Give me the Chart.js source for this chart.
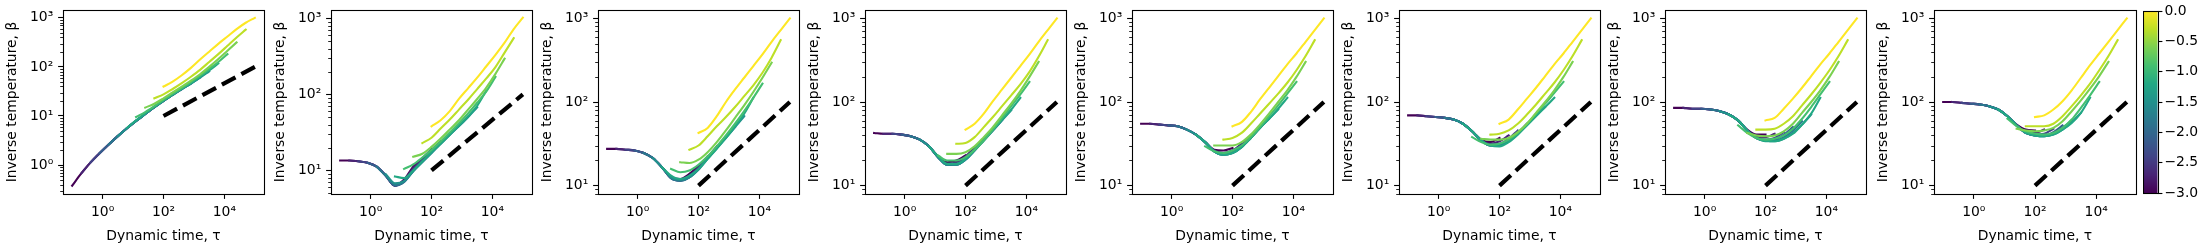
<!DOCTYPE html>
<html>
<head>
<meta charset="utf-8">
<script src="https://cdn.jsdelivr.net/npm/chart.js@4/dist/chart.umd.min.js"></script>
<style>
  html, body { margin: 0; padding: 0; background: #fff; }
  #fig { position: relative; width: 2200px; height: 250px; overflow: hidden; }
  #fig canvas { position: absolute; top: 0; }
</style>
</head>
<body>
<div id="fig"></div>
<script>
// log10 of dynamic time on a 0.3-decade grid; curve k spans TAU_EXP[k .. k+10]
const TAU_EXP = [-1.0, -0.7, -0.4, -0.1, 0.2, 0.5, 0.8, 1.1, 1.4, 1.7, 2.0, 2.3, 2.6, 2.9, 3.2, 3.5, 3.8, 4.1, 4.4, 4.7, 5.0];
// colour value of each curve (colorbar, -3 .. 0)
const CURVE_C = [-3.0, -2.7, -2.4, -2.1, -1.8, -1.5, -1.2, -0.9, -0.6, -0.3, 0.0];

// log10(beta), one row per curve
const LOG_BETA_1 = [
  [-0.42, -0.17, 0.05, 0.24, 0.42, 0.59, 0.75, 0.90, 1.04, 1.18, 1.32],
  [-0.17, 0.05, 0.24, 0.42, 0.59, 0.75, 0.90, 1.04, 1.18, 1.31, 1.44],
  [0.05, 0.24, 0.42, 0.59, 0.75, 0.90, 1.04, 1.18, 1.31, 1.43, 1.55],
  [0.24, 0.42, 0.59, 0.75, 0.90, 1.04, 1.18, 1.31, 1.43, 1.55, 1.66],
  [0.42, 0.59, 0.75, 0.90, 1.04, 1.18, 1.31, 1.43, 1.55, 1.66, 1.78],
  [0.59, 0.75, 0.90, 1.04, 1.18, 1.31, 1.43, 1.55, 1.66, 1.78, 1.91],
  [0.76, 0.91, 1.05, 1.19, 1.32, 1.44, 1.56, 1.67, 1.80, 1.93, 2.07],
  [0.98, 1.08, 1.20, 1.33, 1.45, 1.57, 1.69, 1.82, 1.96, 2.10, 2.26],
  [1.17, 1.25, 1.36, 1.48, 1.60, 1.72, 1.85, 2.00, 2.16, 2.33, 2.50],
  [1.36, 1.44, 1.55, 1.67, 1.80, 1.94, 2.10, 2.26, 2.43, 2.60, 2.76],
  [1.60, 1.70, 1.83, 1.98, 2.15, 2.31, 2.47, 2.62, 2.77, 2.90, 3.00]
];
const LOG_BETA_2 = [
  [1.13, 1.13, 1.12, 1.10, 1.05, 0.93, 0.80, 0.88, 1.05, 1.16, 1.28],
  [1.13, 1.12, 1.10, 1.05, 0.93, 0.80, 0.87, 1.03, 1.15, 1.27, 1.38],
  [1.12, 1.10, 1.05, 0.93, 0.80, 0.86, 1.01, 1.13, 1.25, 1.37, 1.49],
  [1.10, 1.05, 0.93, 0.80, 0.85, 1.00, 1.12, 1.24, 1.36, 1.48, 1.59],
  [1.05, 0.93, 0.81, 0.85, 0.99, 1.11, 1.23, 1.35, 1.47, 1.59, 1.71],
  [0.95, 0.83, 0.86, 0.99, 1.11, 1.23, 1.35, 1.47, 1.58, 1.70, 1.83],
  [0.92, 0.90, 1.00, 1.12, 1.24, 1.35, 1.47, 1.59, 1.71, 1.85, 2.05],
  [1.02, 1.08, 1.17, 1.27, 1.38, 1.50, 1.62, 1.75, 1.89, 2.04, 2.23],
  [1.18, 1.22, 1.31, 1.42, 1.54, 1.66, 1.80, 1.94, 2.09, 2.27, 2.47],
  [1.36, 1.43, 1.55, 1.67, 1.80, 1.93, 2.07, 2.21, 2.36, 2.55, 2.74],
  [1.58, 1.66, 1.78, 1.94, 2.08, 2.22, 2.37, 2.52, 2.68, 2.86, 3.01]
];
const LOG_BETA_3 = [
  [1.44, 1.44, 1.43, 1.42, 1.39, 1.33, 1.22, 1.10, 1.08, 1.14, 1.24],
  [1.44, 1.43, 1.42, 1.39, 1.33, 1.22, 1.09, 1.07, 1.12, 1.22, 1.35],
  [1.43, 1.42, 1.39, 1.33, 1.22, 1.09, 1.06, 1.11, 1.21, 1.34, 1.47],
  [1.42, 1.39, 1.33, 1.22, 1.09, 1.06, 1.10, 1.20, 1.33, 1.46, 1.58],
  [1.39, 1.33, 1.22, 1.09, 1.06, 1.10, 1.20, 1.33, 1.45, 1.58, 1.70],
  [1.33, 1.22, 1.10, 1.07, 1.10, 1.19, 1.32, 1.45, 1.57, 1.70, 1.83],
  [1.22, 1.12, 1.08, 1.12, 1.20, 1.32, 1.44, 1.57, 1.71, 1.86, 2.05],
  [1.20, 1.16, 1.18, 1.25, 1.35, 1.47, 1.60, 1.74, 1.89, 2.05, 2.22],
  [1.28, 1.27, 1.31, 1.40, 1.52, 1.66, 1.81, 1.96, 2.12, 2.29, 2.47],
  [1.43, 1.48, 1.59, 1.71, 1.82, 1.94, 2.07, 2.20, 2.35, 2.53, 2.74],
  [1.63, 1.69, 1.83, 2.00, 2.15, 2.29, 2.43, 2.57, 2.72, 2.86, 3.00]
];
const LOG_BETA_4 = [
  [1.63, 1.62, 1.62, 1.61, 1.59, 1.55, 1.47, 1.35, 1.28, 1.30, 1.36],
  [1.62, 1.62, 1.61, 1.59, 1.55, 1.47, 1.34, 1.26, 1.28, 1.35, 1.46],
  [1.62, 1.61, 1.59, 1.55, 1.47, 1.34, 1.25, 1.26, 1.33, 1.44, 1.56],
  [1.61, 1.59, 1.55, 1.47, 1.34, 1.25, 1.25, 1.32, 1.43, 1.55, 1.67],
  [1.59, 1.55, 1.47, 1.34, 1.25, 1.25, 1.31, 1.42, 1.54, 1.66, 1.78],
  [1.55, 1.47, 1.34, 1.25, 1.25, 1.31, 1.42, 1.54, 1.66, 1.78, 1.90],
  [1.47, 1.35, 1.26, 1.26, 1.32, 1.43, 1.55, 1.67, 1.79, 1.91, 2.05],
  [1.36, 1.30, 1.30, 1.34, 1.43, 1.54, 1.67, 1.81, 1.95, 2.09, 2.24],
  [1.38, 1.38, 1.40, 1.47, 1.58, 1.70, 1.84, 1.98, 2.13, 2.30, 2.48],
  [1.50, 1.51, 1.58, 1.70, 1.82, 1.95, 2.08, 2.21, 2.36, 2.54, 2.74],
  [1.67, 1.74, 1.86, 2.01, 2.15, 2.29, 2.43, 2.57, 2.72, 2.86, 3.00]
];
const LOG_BETA_5 = [
  [1.74, 1.74, 1.73, 1.72, 1.71, 1.67, 1.61, 1.52, 1.43, 1.42, 1.45],
  [1.74, 1.73, 1.72, 1.71, 1.67, 1.61, 1.52, 1.42, 1.39, 1.42, 1.50],
  [1.73, 1.72, 1.71, 1.67, 1.61, 1.52, 1.41, 1.38, 1.41, 1.49, 1.60],
  [1.72, 1.71, 1.67, 1.61, 1.52, 1.41, 1.37, 1.40, 1.47, 1.58, 1.70],
  [1.71, 1.67, 1.61, 1.52, 1.41, 1.37, 1.39, 1.46, 1.57, 1.69, 1.80],
  [1.67, 1.61, 1.52, 1.41, 1.37, 1.39, 1.46, 1.57, 1.69, 1.80, 1.91],
  [1.61, 1.52, 1.41, 1.37, 1.39, 1.46, 1.57, 1.69, 1.80, 1.92, 2.05],
  [1.47, 1.41, 1.39, 1.42, 1.48, 1.58, 1.70, 1.83, 1.96, 2.10, 2.24],
  [1.48, 1.48, 1.48, 1.52, 1.61, 1.73, 1.86, 2.00, 2.14, 2.30, 2.48],
  [1.55, 1.57, 1.63, 1.74, 1.86, 1.98, 2.10, 2.23, 2.38, 2.55, 2.74],
  [1.71, 1.76, 1.88, 2.03, 2.17, 2.31, 2.45, 2.58, 2.72, 2.86, 3.00]
];
const LOG_BETA_6 = [
  [1.84, 1.84, 1.83, 1.82, 1.81, 1.79, 1.74, 1.65, 1.55, 1.52, 1.57],
  [1.84, 1.83, 1.82, 1.81, 1.79, 1.74, 1.65, 1.54, 1.50, 1.53, 1.60],
  [1.83, 1.82, 1.81, 1.79, 1.74, 1.65, 1.54, 1.49, 1.50, 1.56, 1.66],
  [1.82, 1.81, 1.79, 1.74, 1.65, 1.54, 1.48, 1.49, 1.54, 1.63, 1.74],
  [1.81, 1.79, 1.74, 1.65, 1.54, 1.48, 1.48, 1.53, 1.62, 1.73, 1.84],
  [1.79, 1.74, 1.65, 1.54, 1.48, 1.48, 1.53, 1.62, 1.73, 1.84, 1.94],
  [1.74, 1.65, 1.54, 1.48, 1.47, 1.52, 1.61, 1.72, 1.83, 1.94, 2.05],
  [1.58, 1.52, 1.49, 1.50, 1.55, 1.63, 1.74, 1.86, 1.98, 2.11, 2.24],
  [1.56, 1.55, 1.55, 1.57, 1.64, 1.74, 1.87, 2.00, 2.14, 2.30, 2.48],
  [1.61, 1.62, 1.66, 1.74, 1.85, 1.97, 2.10, 2.23, 2.38, 2.55, 2.74],
  [1.74, 1.79, 1.91, 2.04, 2.17, 2.31, 2.45, 2.58, 2.72, 2.86, 3.00]
];
const LOG_BETA_7 = [
  [1.93, 1.93, 1.92, 1.92, 1.91, 1.89, 1.85, 1.78, 1.67, 1.61, 1.61],
  [1.93, 1.92, 1.92, 1.91, 1.89, 1.85, 1.78, 1.66, 1.58, 1.58, 1.62],
  [1.92, 1.92, 1.91, 1.89, 1.85, 1.78, 1.66, 1.57, 1.55, 1.57, 1.64],
  [1.92, 1.91, 1.89, 1.85, 1.78, 1.66, 1.57, 1.54, 1.55, 1.61, 1.70],
  [1.91, 1.89, 1.85, 1.78, 1.66, 1.57, 1.54, 1.54, 1.58, 1.66, 1.77],
  [1.89, 1.85, 1.78, 1.66, 1.57, 1.54, 1.53, 1.56, 1.63, 1.73, 1.85],
  [1.85, 1.78, 1.66, 1.57, 1.53, 1.53, 1.56, 1.62, 1.73, 1.86, 2.05],
  [1.72, 1.63, 1.57, 1.55, 1.56, 1.60, 1.68, 1.80, 1.94, 2.09, 2.24],
  [1.63, 1.60, 1.59, 1.60, 1.65, 1.74, 1.87, 2.00, 2.14, 2.30, 2.48],
  [1.67, 1.67, 1.68, 1.74, 1.83, 1.96, 2.09, 2.23, 2.38, 2.55, 2.74],
  [1.78, 1.81, 1.92, 2.04, 2.17, 2.31, 2.45, 2.58, 2.72, 2.86, 3.00]
];
const LOG_BETA_8 = [
  [2.00, 2.00, 1.99, 1.98, 1.97, 1.95, 1.91, 1.83, 1.73, 1.67, 1.66],
  [2.00, 1.99, 1.98, 1.97, 1.95, 1.91, 1.83, 1.72, 1.64, 1.63, 1.67],
  [1.99, 1.98, 1.97, 1.95, 1.91, 1.83, 1.72, 1.63, 1.61, 1.62, 1.68],
  [1.98, 1.97, 1.95, 1.91, 1.83, 1.72, 1.63, 1.60, 1.60, 1.64, 1.72],
  [1.97, 1.95, 1.91, 1.83, 1.72, 1.63, 1.60, 1.59, 1.62, 1.69, 1.78],
  [1.95, 1.91, 1.83, 1.72, 1.63, 1.60, 1.59, 1.61, 1.67, 1.76, 1.87],
  [1.91, 1.83, 1.72, 1.63, 1.60, 1.59, 1.61, 1.67, 1.75, 1.87, 2.05],
  [1.80, 1.71, 1.65, 1.62, 1.61, 1.63, 1.69, 1.79, 1.93, 2.08, 2.24],
  [1.68, 1.66, 1.65, 1.66, 1.69, 1.77, 1.89, 2.02, 2.16, 2.31, 2.48],
  [1.71, 1.71, 1.71, 1.74, 1.83, 1.95, 2.08, 2.22, 2.38, 2.55, 2.74],
  [1.82, 1.84, 1.91, 2.01, 2.14, 2.29, 2.44, 2.58, 2.72, 2.86, 3.00]
];
const PANELS = [LOG_BETA_1, LOG_BETA_2, LOG_BETA_3, LOG_BETA_4, LOG_BETA_5, LOG_BETA_6, LOG_BETA_7, LOG_BETA_8];

// dashed guide line, beta ~ tau^(1/3)
const REF_TAU = [100, 100000];
const REF_BETA = [10, 100];

// axis ranges (log10) and tick labels
const X_RANGE = [-1.3, 5.3];
const X_TICKS = [1, 100, 10000];
const Y_RANGES = [[-0.59, 3.16], [0.69, 3.11], [0.9, 3.1], [0.9, 3.1], [0.9, 3.1], [0.9, 3.1], [0.9, 3.1], [0.9, 3.1]];
const Y_TICKS_FIRST = [1, 10, 100, 1000];
const Y_TICKS = [10, 100, 1000];
const CBAR_TICKS = [-3.0, -2.5, -2.0, -1.5, -1.0, -0.5, 0.0];

const VIRIDIS = ['#440154', '#482475', '#414487', '#355f8d', '#2a788e', '#21918c',
                 '#22a884', '#44bf70', '#7ad151', '#bddf26', '#fde725'];

// layout (chart-area left edge / width of each panel, px)
const PANEL_LEFT = [63, 331, 597.5, 864.5, 1131.5, 1398.5, 1664.5, 1933.5];
const PANEL_W = [201, 201, 201, 201, 201, 201, 201, 202];
const AXIS_W = 63;

Chart.defaults.font.family = "'DejaVu Sans', sans-serif";
Chart.defaults.font.size = 13.9;
Chart.defaults.color = '#000';

const SUP = { '-': '⁻', '0': '⁰', '1': '¹', '2': '²', '3': '³', '4': '⁴', '5': '⁵', '6': '⁶', '7': '⁷', '8': '⁸', '9': '⁹' };
const powLabel = v => '10' + String(Math.round(Math.log10(v))).split('').map(c => SUP[c]).join('');
const viridis = c => VIRIDIS[Math.round((c + 3) / 3 * 10)];

function minorTicks(lo, hi) {
  const out = [];
  for (let d = Math.floor(Math.log10(lo)); d <= Math.ceil(Math.log10(hi)); d++) {
    for (let m = 2; m <= 9; m++) {
      const v = m * Math.pow(10, d);
      if (v >= lo && v <= hi) out.push(v);
    }
  }
  return out;
}

const axesFrame = {
  id: 'axesFrame',
  afterDraw(chart) {
    const { ctx, chartArea: a } = chart;
    const ys = chart.scales.y;
    ctx.save();
    ctx.strokeStyle = '#000';
    if (ys.type === 'logarithmic') {
      ctx.lineWidth = 0.85;
      minorTicks(ys.min, ys.max).forEach(v => {
        const py = Math.round(ys.getPixelForValue(v)) + 0.5;
        ctx.beginPath();
        ctx.moveTo(a.left - 2.8, py);
        ctx.lineTo(a.left, py);
        ctx.stroke();
      });
    }
    ctx.lineWidth = 1.1;
    ctx.strokeRect(Math.round(a.left) + 0.5, Math.round(a.top) + 0.5,
                   Math.round(a.right - a.left), Math.round(a.bottom - a.top));
    ctx.restore();
  }
};

const fig = document.getElementById('fig');

function makePanel(i) {
  const rows = PANELS[i];
  const cv = document.createElement('canvas');
  cv.width = AXIS_W + PANEL_W[i] + 3;
  cv.height = 250;
  cv.style.left = (PANEL_LEFT[i] - AXIS_W) + 'px';
  fig.appendChild(cv);

  const datasets = rows.map((row, k) => ({
    data: row.map((lb, j) => ({ x: Math.pow(10, TAU_EXP[k + j]), y: Math.pow(10, lb) })),
    borderColor: viridis(CURVE_C[k]),
    borderWidth: 2.1,
    borderCapStyle: 'square',
    pointRadius: 0,
    fill: false,
    cubicInterpolationMode: 'monotone',
    order: rows.length - k
  }));
  datasets.push({
    data: REF_TAU.map((t, j) => ({ x: t, y: REF_BETA[j] })),
    borderColor: '#000',
    borderWidth: 4.2,
    borderDash: [15.4, 6.7],
    borderCapStyle: 'butt',
    pointRadius: 0,
    fill: false,
    order: 0
  });

  const yr = Y_RANGES[i];
  const yTicks = i === 0 ? Y_TICKS_FIRST : Y_TICKS;
  const tickGrid = { drawOnChartArea: false, tickLength: 4.9, tickWidth: 1.1, tickColor: '#000' };

  new Chart(cv, {
    type: 'line',
    data: { datasets },
    options: {
      responsive: false, animation: false, devicePixelRatio: 1,
      layout: { padding: { left: 0, right: 3, top: 10, bottom: 0 } },
      plugins: { legend: { display: false }, tooltip: { enabled: false } },
      scales: {
        x: {
          type: 'logarithmic',
          min: Math.pow(10, X_RANGE[0]), max: Math.pow(10, X_RANGE[1]),
          border: { display: false },
          grid: tickGrid,
          ticks: { padding: 4.9, maxRotation: 0, autoSkip: false, callback: v => powLabel(v) },
          title: { display: true, text: 'Dynamic time, τ', padding: { top: 0, bottom: 4.9 } },
          afterBuildTicks: s => { s.ticks = X_TICKS.map(v => ({ value: v })); },
          afterFit: s => { s.height = 56; s.paddingLeft = 0; s.paddingRight = 0; }
        },
        y: {
          type: 'logarithmic',
          min: Math.pow(10, yr[0]), max: Math.pow(10, yr[1]),
          border: { display: false },
          grid: tickGrid,
          ticks: { padding: 4.9, autoSkip: false, callback: v => powLabel(v) },
          title: { display: true, text: 'Inverse temperature, β', padding: { top: 4, bottom: 0 } },
          afterBuildTicks: s => { s.ticks = yTicks.map(v => ({ value: v })); },
          afterFit: s => { s.width = AXIS_W; s.paddingTop = 0; s.paddingBottom = 0; }
        }
      }
    },
    plugins: [axesFrame]
  });
}

for (let i = 0; i < PANELS.length; i++) makePanel(i);

// colorbar
const cbGradient = {
  id: 'cbGradient',
  beforeDatasetsDraw(chart) {
    const { ctx, chartArea: a } = chart;
    const g = ctx.createLinearGradient(0, a.bottom, 0, a.top);
    VIRIDIS.forEach((c, j) => g.addColorStop(j / (VIRIDIS.length - 1), c));
    ctx.save();
    ctx.fillStyle = g;
    ctx.fillRect(a.left, a.top, a.right - a.left, a.bottom - a.top);
    ctx.restore();
  }
};

(function makeColorbar() {
  const cv = document.createElement('canvas');
  cv.width = 60;
  cv.height = 250;
  cv.style.left = '2143px';
  fig.appendChild(cv);
  new Chart(cv, {
    type: 'line',
    data: { datasets: [] },
    options: {
      responsive: false, animation: false, devicePixelRatio: 1,
      layout: { padding: { left: 0, right: 0, top: 11, bottom: 57 } },
      plugins: { legend: { display: false }, tooltip: { enabled: false } },
      scales: {
        x: { display: false },
        y: {
          type: 'linear', position: 'right', min: -3, max: 0,
          border: { display: false },
          grid: { drawOnChartArea: false, tickLength: 4.9, tickWidth: 1.1, tickColor: '#000' },
          ticks: { padding: 2, autoSkip: false, callback: v => v.toFixed(1).replace('-', '−') },
          afterBuildTicks: s => { s.ticks = CBAR_TICKS.map(v => ({ value: v })); },
          afterFit: s => { s.width = 45.5; s.paddingTop = 0; s.paddingBottom = 0; }
        }
      }
    },
    plugins: [cbGradient, axesFrame]
  });
})();
</script>
</body>
</html>
